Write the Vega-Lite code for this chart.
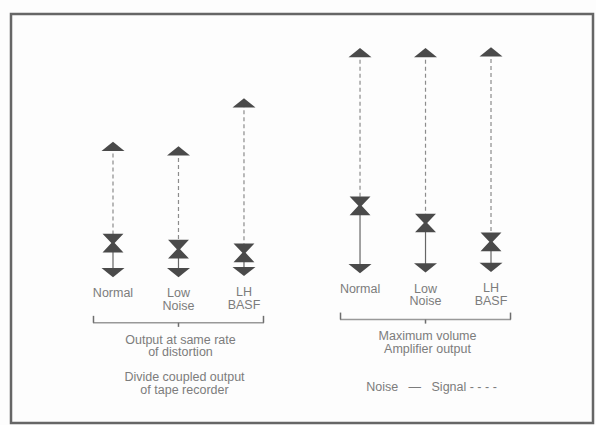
{
  "$schema": "https://vega.github.io/schema/vega-lite/v6.json",
  "width": 582,
  "height": 409,
  "autosize": {"type": "none"},
  "padding": {"left": 11, "top": 14, "right": 3, "bottom": 2},
  "background": "#fdfdfd",
  "config": {
    "view": {"stroke": "#666666", "strokeWidth": 2.5},
    "text": {"font": "Liberation Sans", "fontSize": 12.5, "color": "#7c7c7c", "lineHeight": 12.5}
  },
  "datasets": {
    "tapes": [
      {"group": "A", "tape": "Normal", "label": "Normal", "signal": 67.6, "noise": 44.0, "floor": 36.8},
      {"group": "A", "tape": "Low Noise", "label": "Low\nNoise", "signal": 66.5, "noise": 42.5, "floor": 36.8},
      {"group": "A", "tape": "LH BASF", "label": "LH\nBASF", "signal": 78.2, "noise": 41.6, "floor": 37.1},
      {"group": "B", "tape": "Normal", "label": "Normal", "signal": 90.5, "noise": 53.1, "floor": 37.8},
      {"group": "B", "tape": "Low Noise", "label": "Low\nNoise", "signal": 90.5, "noise": 48.9, "floor": 38.0},
      {"group": "B", "tape": "LH BASF", "label": "LH\nBASF", "signal": 90.7, "noise": 44.3, "floor": 38.1}
    ],
    "groups": [
      {"group": "A", "bracket": 24.5, "bracketEnd": 26.2, "bracketTick": 23.5, "title": "Output at same rate\nof distortion", "titleLevel": 21.8, "note": "Divide coupled output\nof tape recorder", "noteLevel": 12.7},
      {"group": "B", "bracket": 25.3, "bracketEnd": 27.0, "bracketTick": 24.3, "title": "Maximum volume\nAmplifier output", "titleLevel": 22.7, "note": "Noise\u00a0\u00a0\u00a0—\u00a0\u00a0\u00a0Signal\u00a0-\u00a0-\u00a0-\u00a0-", "noteLevel": 10.3}
    ]
  },
  "encoding": {
    "x": {"field": "group", "type": "nominal", "axis": null,
          "scale": {"domain": ["A", "B"], "paddingInner": 0, "paddingOuter": 0.178}}
  },
  "layer": [
    {
      "data": {"name": "tapes"},
      "encoding": {
        "xOffset": {"field": "tape", "type": "nominal",
                    "scale": {"domain": ["Normal", "Low Noise", "LH BASF"], "paddingInner": 0, "paddingOuter": 0.386}}
      },
      "layer": [
        {
          "mark": {"type": "rule", "color": "#8c8c8c", "strokeWidth": 1.2, "strokeDash": [4, 3]},
          "encoding": {
            "y": {"field": "signal", "type": "quantitative", "axis": null, "scale": {"domain": [0, 100], "nice": false, "zero": false}},
            "y2": {"field": "noise"}
          }
        },
        {
          "mark": {"type": "rule", "color": "#666666", "strokeWidth": 1.2},
          "encoding": {
            "y": {"field": "noise", "type": "quantitative"},
            "y2": {"field": "floor"}
          }
        },
        {
          "mark": {"type": "point", "filled": true, "opacity": 1, "color": "#4a4a4a", "size": 529,
                   "shape": "M-1,0.38L0,-0.42L1,0.38Z"},
          "encoding": {"y": {"field": "signal", "type": "quantitative"}}
        },
        {
          "mark": {"type": "point", "filled": true, "opacity": 1, "color": "#4a4a4a", "size": 484,
                   "shape": "M-0.95,-0.85L0.95,-0.85L0.15,0L0.95,0.85L-0.95,0.85L-0.15,0Z"},
          "encoding": {"y": {"field": "noise", "type": "quantitative"}}
        },
        {
          "mark": {"type": "point", "filled": true, "opacity": 1, "color": "#4a4a4a", "size": 529,
                   "shape": "M-1,-0.38L1,-0.38L0,0.42Z"},
          "encoding": {"y": {"field": "floor", "type": "quantitative"}}
        },
        {
          "mark": {"type": "text", "align": "center", "baseline": "top", "dy": 15, "lineBreak": "\n"},
          "encoding": {
            "y": {"field": "floor", "type": "quantitative"},
            "text": {"field": "label"}
          }
        }
      ]
    },
    {
      "data": {"name": "groups"},
      "layer": [
        {
          "mark": {"type": "tick", "orient": "horizontal", "color": "#6e6e6e", "thickness": 1.5, "size": 171},
          "encoding": {"y": {"field": "bracket", "type": "quantitative"}}
        },
        {
          "mark": {"type": "rule", "color": "#6e6e6e", "strokeWidth": 1.5, "xOffset": -85},
          "encoding": {"y": {"field": "bracket", "type": "quantitative"}, "y2": {"field": "bracketEnd"}}
        },
        {
          "mark": {"type": "rule", "color": "#6e6e6e", "strokeWidth": 1.5, "xOffset": 85},
          "encoding": {"y": {"field": "bracket", "type": "quantitative"}, "y2": {"field": "bracketEnd"}}
        },
        {
          "mark": {"type": "rule", "color": "#6e6e6e", "strokeWidth": 1.5},
          "encoding": {"y": {"field": "bracket", "type": "quantitative"}, "y2": {"field": "bracketTick"}}
        },
        {
          "mark": {"type": "text", "align": "center", "baseline": "top", "lineBreak": "\n", "dx": 2},
          "encoding": {"y": {"field": "titleLevel", "type": "quantitative"}, "text": {"field": "title"}}
        },
        {
          "mark": {"type": "text", "align": "center", "baseline": "top", "lineBreak": "\n", "dx": 6},
          "encoding": {"y": {"field": "noteLevel", "type": "quantitative"}, "text": {"field": "note"}}
        }
      ]
    }
  ]
}
